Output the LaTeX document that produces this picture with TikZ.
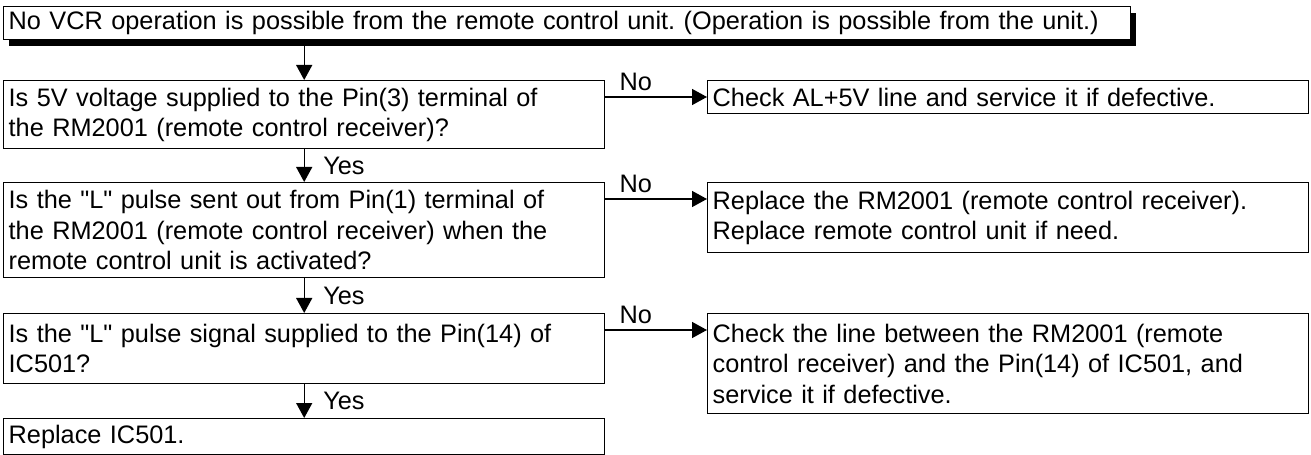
\documentclass[tikz,border=0pt]{standalone}
\usepackage{fontspec}
\setmainfont{Liberation Sans}
\usetikzlibrary{arrows.meta,shadows}
\frenchspacing

\begin{document}
\begin{tikzpicture}[every node/.style={font=\fontsize{14.4}{17.3}\selectfont}, >={Triangle[length=3mm, width=3.2mm]}, line width=0.8pt,
	box/.style={draw, fill=white, anchor=north west, align=left, inner xsep=1mm, inner ysep=0pt, text width=11.82cm}]
	\useasboundingbox (0,0) rectangle (26.22,-9.10);
	% start of the check
	\node[box, text width=22.34cm, minimum height=0.66cm, drop shadow={shadow xshift=0.1cm, shadow yshift=-0.12cm, opacity=1, fill=black}] (start) at (0.06,-0.12) {No VCR operation is possible from the remote control unit. (Operation is possible from the unit.)};
	% questions on the left
	\node[box, minimum height=1.36cm] (q1) at (0.06,-1.60) {Is 5V voltage supplied to the Pin(3) terminal of\\the RM2001 (remote control receiver)?};
	\node[box, minimum height=1.90cm] (q2) at (0.06,-3.64) {Is the \textquotedbl L\textquotedbl{} pulse sent out from Pin(1) terminal of\\the RM2001 (remote control receiver) when the\\remote control unit is activated?};
	\node[box, minimum height=1.40cm] (q3) at (0.06,-6.26) {Is the \textquotedbl L\textquotedbl{} pulse signal supplied to the Pin(14) of\\IC501?};
	\node[box, minimum height=0.72cm] (fix) at (0.06,-8.36) {Replace IC501.};
	% remedies on the right
	\node[box, minimum height=0.66cm] (r1) at (14.14,-1.60) {Check AL+5V line and service it if defective.};
	\node[box, minimum height=1.40cm] (r2) at (14.14,-3.64) {Replace the RM2001 (remote control receiver).\\Replace remote control unit if need.};
	\node[box, minimum height=2.00cm] (r3) at (14.14,-6.26) {Check the line between the RM2001 (remote\\control receiver) and the Pin(14) of IC501, and\\service it if defective.};
	\draw[->] (start.south -| q1.north) -- (q1.north);
	\draw[->] (q1.south) -- (q2.north) node[midway, right=2.5mm] {Yes};
	\draw[->] (q2.south) -- (q3.north) node[midway, right=2.5mm] {Yes};
	\draw[->] (q3.south) -- (fix.north) node[midway, right=2.5mm] {Yes};
	\draw[->] ([yshift=-3.4mm]q1.north east) -- ([yshift=-3.4mm]r1.north west) node[pos=0.3, above] {No};
	\draw[->] ([yshift=-3.4mm]q2.north east) -- ([yshift=-3.4mm]r2.north west) node[pos=0.3, above] {No};
	\draw[->] ([yshift=-3.4mm]q3.north east) -- ([yshift=-3.4mm]r3.north west) node[pos=0.3, above] {No};
\end{tikzpicture}
\end{document}
